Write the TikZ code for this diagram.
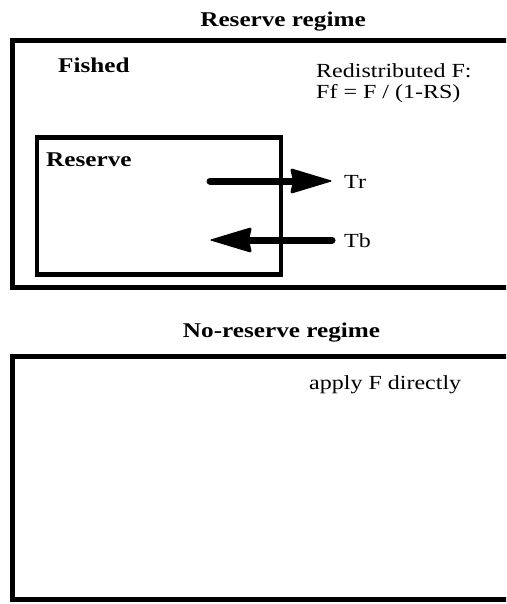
\documentclass[tikz,border=0pt]{standalone}
\usepackage{fontspec}
\setmainfont[FakeStretch=1.2]{Liberation Serif}
\begin{document}
\begin{tikzpicture}[x=1pt,y=-1pt,
  frame/.style={line width=5pt},
  inner/.style={line width=4.5pt},
  shaft/.style={line width=7pt, line cap=round, shorten >=30pt},
  headr/.style={fill=black, rounded corners=2.5pt},
  title/.style={font=\fontsize{21}{24}\selectfont\bfseries, anchor=base},
  bold/.style={font=\fontsize{21}{24}\selectfont\bfseries, anchor=base west, inner sep=0pt},
  plain/.style={font=\fontsize{20}{24}\selectfont, anchor=base west, inner sep=0pt}]
\clip (0,0) rectangle (506,604);
\useasboundingbox (0,0) rectangle (506,604);
% Reserve regime
\node[title] (t1) at (283,27) {Reserve regime};
\draw[frame] (520,40.5) -- (12.5,40.5) -- (12.5,287.5) -- (520,287.5);
\node[bold] (fished) at (58,73) {Fished};
\node[plain] (redis) at (316,78) {Redistributed F:};
\node[plain] (ff) at (316,99) {Ff = F / (1-RS)};
\draw[inner] (37,137.5) rectangle (281,274.5);
\node[bold] (res) at (46,167) {Reserve};
\coordinate (tra) at (210,181);
\coordinate (trb) at (333,181);
\coordinate (tba) at (332,240);
\coordinate (tbb) at (209,240);
\draw[shaft] (tra) -- (trb);
\fill[headr] (trb) -- ++(-43,-13) -- ++(3,13) -- ++(-3,13) -- cycle;
\draw[shaft] (tba) -- (tbb);
\fill[headr] (tbb) -- ++(43,-13) -- ++(-3,13) -- ++(3,13) -- cycle;
\node[plain] (tr) at (344,188) {Tr};
\node[plain] (tb) at (344,247) {Tb};
% No-reserve regime
\node[title] (t2) at (281.5,337) {No-reserve regime};
\draw[frame] (520,356) -- (12,356) -- (12,599.5) -- (520,599.5);
\node[plain] (apply) at (309,389) {apply F directly};
\end{tikzpicture}
\end{document}
